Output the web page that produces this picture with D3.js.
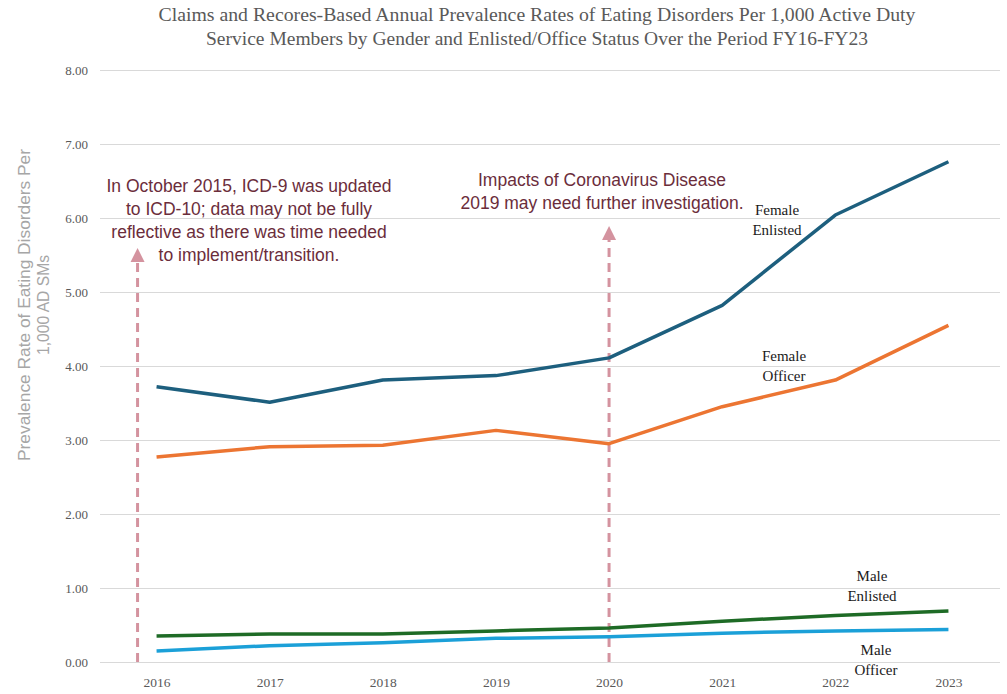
<!DOCTYPE html>
<html><head><meta charset="utf-8">
<script src="https://cdn.jsdelivr.net/npm/d3@7"></script>
<style>body{margin:0;background:#fff}svg{display:block}</style>
</head><body>
<svg id="c" width="1007" height="694"></svg>
<script>
const years = [2016, 2017, 2018, 2019, 2020, 2021, 2022, 2023];
const femaleEnlisted = [3.72, 3.51, 3.81, 3.87, 4.11, 4.82, 6.04, 6.76];
const femaleOfficer  = [2.77, 2.91, 2.93, 3.13, 2.95, 3.45, 3.81, 4.55];
const maleEnlisted   = [0.35, 0.38, 0.38, 0.42, 0.46, 0.55, 0.63, 0.69];
const maleOfficer    = [0.15, 0.22, 0.26, 0.32, 0.34, 0.39, 0.42, 0.44];
const yTicks = [0, 1, 2, 3, 4, 5, 6, 7, 8];
const titleLines = ["Claims and Recores-Based Annual Prevalence Rates of Eating Disorders Per 1,000 Active Duty",
                    "Service Members by Gender and Enlisted/Office Status Over the Period FY16-FY23"];
const yTitle = ["Prevalence Rate of Eating Disorders Per", "1,000 AD SMs"];
const ann1 = ["In October 2015, ICD-9 was updated", "to ICD-10; data may not be fully", "reflective as there was time needed", "to implement/transition."];
const ann2 = ["Impacts of Coronavirus Disease", "2019 may need further investigation."];

const svg = d3.select("#c");
const x = d3.scalePoint().domain(years).range([100, 1005]).padding(0.5);
const y = d3.scaleLinear().domain([0, 8]).range([662, 70]);

// gridlines
const yAxis = d3.axisLeft(y).tickValues(yTicks).tickFormat(d3.format(".2f")).tickSize(-900).tickPadding(12);
const gy = svg.append("g").attr("transform", "translate(100,0)").call(yAxis);
gy.select(".domain").remove();
gy.selectAll(".tick line").attr("stroke", "#d9d9d9").attr("stroke-width", 1);
gy.selectAll(".tick text").attr("fill", "#595959").style("font-family", "Liberation Serif, serif").style("font-size", "13px");

const xAxis = d3.axisBottom(x).tickSize(0).tickPadding(10);
const gx = svg.append("g").attr("transform", "translate(0,667)").call(xAxis);
gx.select(".domain").remove();
gx.selectAll(".tick text").attr("fill", "#595959").style("font-family", "Liberation Serif, serif").style("font-size", "13.5px");

// title
svg.append("g").selectAll("text").data(titleLines).join("text")
  .attr("x", 537).attr("y", (d, i) => 21 + i * 24)
  .attr("text-anchor", "middle")
  .attr("fill", "#595959")
  .style("font-family", "Liberation Serif, serif").style("font-size", "18.5px")
  .attr("textLength", (d, i) => i === 0 ? 757 : 662).attr("lengthAdjust", "spacingAndGlyphs")
  .text(d => d);

// y title
svg.append("g").selectAll("text").data(yTitle).join("text")
  .attr("transform", (d, i) => `translate(${30 + i * 19},305) rotate(-90)`)
  .attr("text-anchor", "middle")
  .attr("fill", "#a6a6a6")
  .style("font-family", "Liberation Sans, sans-serif").style("font-size", "16px")
  .attr("textLength", (d, i) => i === 0 ? 312 : 100).attr("lengthAdjust", "spacingAndGlyphs")
  .text(d => d);

// dashed arrows
const pink = "#d4939f";
function arrow(xp, yTop) {
  svg.append("line").attr("x1", xp).attr("x2", xp).attr("y1", y(0)).attr("y2", yTop + 12)
    .attr("stroke", pink).attr("stroke-width", 3).attr("stroke-dasharray", "9,6");
  svg.append("path").attr("d", `M${xp - 7},${yTop + 14} L${xp},${yTop} L${xp + 7},${yTop + 14} Z`).attr("fill", pink);
}
arrow(x(2016) - 19, 248);
arrow(x(2020), 226);

// annotation text
const annColor = "#6b2d3b";
svg.append("g").selectAll("text").data(ann1).join("text")
  .attr("x", 249).attr("y", (d, i) => 192 + i * 23)
  .attr("text-anchor", "middle").attr("fill", annColor)
  .style("font-family", "Liberation Sans, Arial, sans-serif").style("font-size", "17.5px")
  .text(d => d);
svg.append("g").selectAll("text").data(ann2).join("text")
  .attr("x", 602).attr("y", (d, i) => 186 + i * 23)
  .attr("text-anchor", "middle").attr("fill", annColor)
  .style("font-family", "Liberation Sans, Arial, sans-serif").style("font-size", "17.5px")
  .text(d => d);

// lines
const series = [
  {name: "Female Enlisted", values: femaleEnlisted, color: "#1d5f7e", label: ["Female", "Enlisted"], lx: 777, ly: 215},
  {name: "Female Officer", values: femaleOfficer, color: "#ec7532", label: ["Female", "Officer"], lx: 784, ly: 361},
  {name: "Male Enlisted", values: maleEnlisted, color: "#1e6b26", label: ["Male", "Enlisted"], lx: 872, ly: 581},
  {name: "Male Officer", values: maleOfficer, color: "#1ba0d8", label: ["Male", "Officer"], lx: 876, ly: 655}
];
const line = d3.line().x((d, i) => x(years[i])).y(d => y(d));
svg.append("g").selectAll("path").data(series).join("path")
  .attr("d", d => line(d.values)).attr("fill", "none")
  .attr("stroke", d => d.color).attr("stroke-width", 3.5)
  .attr("stroke-linejoin", "round");

series.forEach(s => {
  svg.append("g").selectAll("text").data(s.label).join("text")
    .attr("x", s.lx).attr("y", (d, i) => s.ly + i * 20)
    .attr("text-anchor", "middle").attr("fill", "#1a1a1a")
    .style("font-family", "Liberation Serif, serif").style("font-size", "15px")
    .text(d => d);
});
</script>
</body></html>
